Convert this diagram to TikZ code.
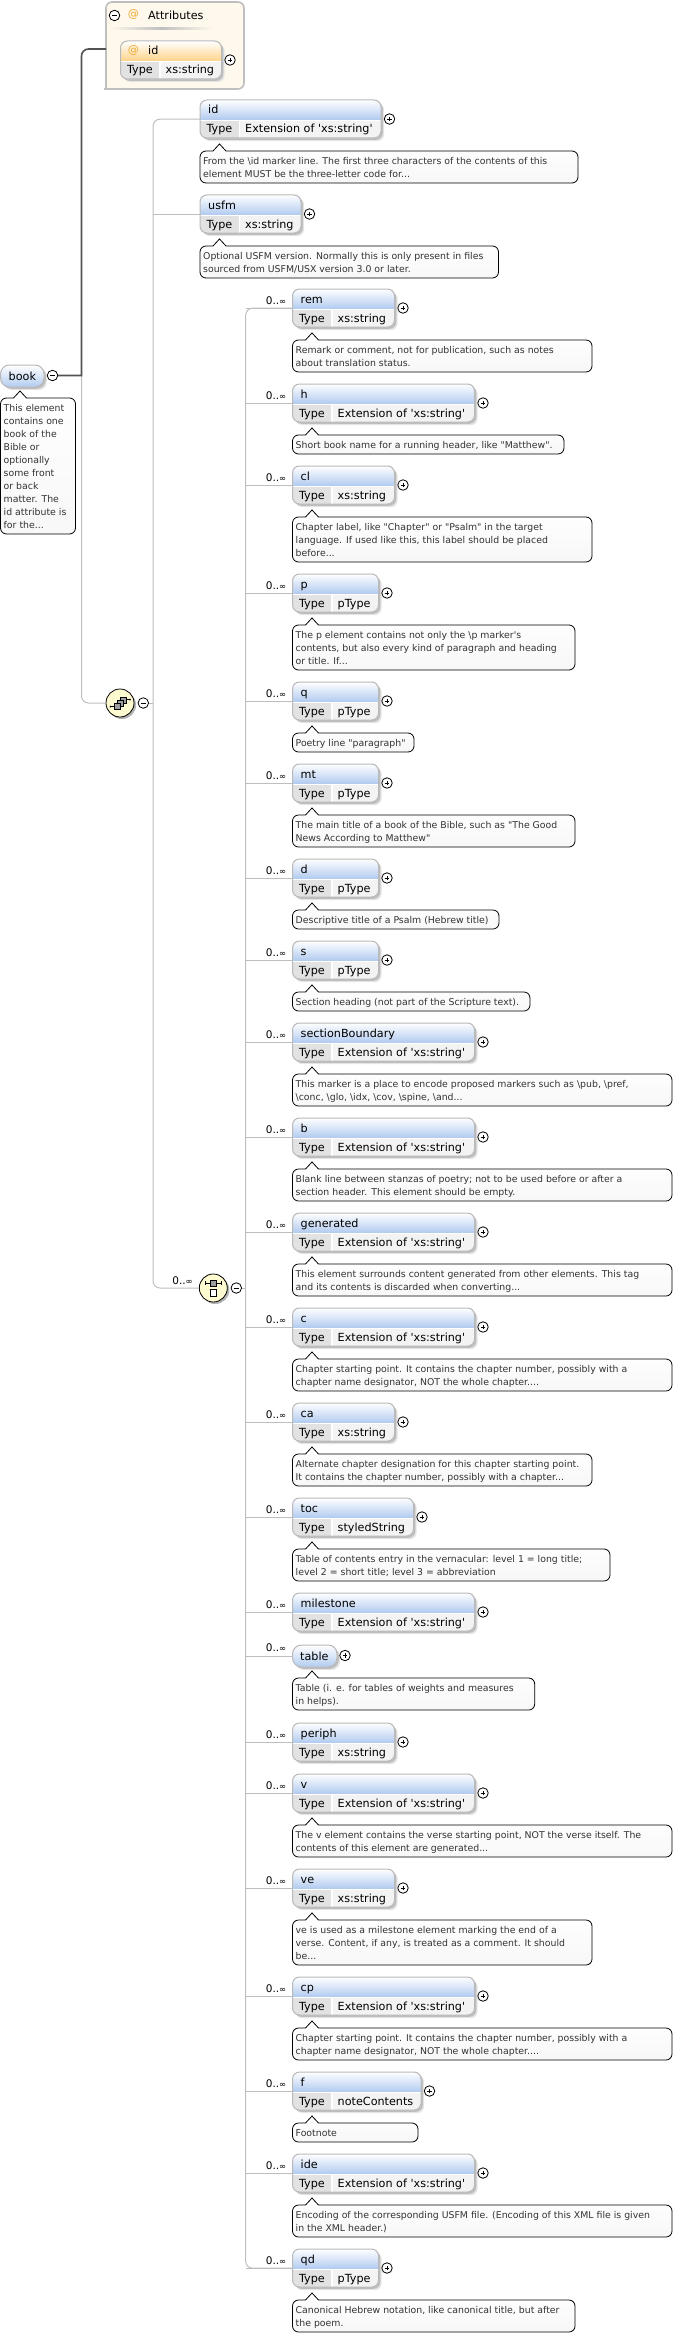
\documentclass[tikz,border=0pt]{standalone}
\usepackage{fontspec}
\newfontfamily\diagfont{DejaVu Sans}
\definecolor{elemblue}{RGB}{178,203,240}
\definecolor{attrorange}{RGB}{255,212,140}
\definecolor{attrtint}{RGB}{255,248,236}
\definecolor{compyellow}{RGB}{255,251,208}
\definecolor{linkgray}{RGB}{190,190,190}
\definecolor{frameline}{RGB}{185,185,185}
\definecolor{typecell}{RGB}{226,226,226}
\definecolor{valcell}{RGB}{243,243,243}
\definecolor{notetext}{RGB}{50,50,50}
\definecolor{attmark}{RGB}{240,168,48}

%% --- shadow and white body of a box ---
\newcommand{\boxshape}[6]{
    \fill[black!10, rounded corners=#6] (#2+3.2,#3+3.2) rectangle ++(#4,#5);
    \fill[black!26, rounded corners=#6] (#2+1.8,#3+1.8) rectangle ++(#4,#5);
    \node[anchor=north west, fill=white, rounded corners=#6, inner sep=0pt,
        minimum width=#4, minimum height=#5] (#1) at (#2,#3) {};
}

%% --- element box with a Type row ---
\newcommand{\elembox}[8]{
    \boxshape{#1}{#2}{#3}{#4}{38}{7pt}
    \begin{scope}
        \clip[rounded corners=7pt] (#2,#3) rectangle ++(#4,38);
        \fill[top color=white, bottom color=#6] (#2,#3) rectangle ++(#4,19.5);
        \fill[typecell] (#2,#3+21) rectangle (#2+38.5,#3+38);
        \fill[valcell] (#2+40,#3+21) rectangle (#2+#4,#3+38);
    \end{scope}
    \draw[boxline, rounded corners=7pt] (#2,#3) rectangle ++(#4,38);
    \node[celltext, anchor=base west] (#1name) at (#2+#7,#3+14) {#8};
    \node[celltext, anchor=base] (#1type) at (#2+19.5,#3+33) {Type};
    \node[celltext, anchor=base west] (#1val) at (#2+45,#3+33) {#5};
    \node[plusbtn] (#1plus) at (#2+#4+8.5,#3+19) {};
}

%% --- element box without a Type row ---
\newcommand{\pillbox}[5]{
    \boxshape{#1}{#2}{#3}{#4}{22}{9pt}
    \begin{scope}
        \clip[rounded corners=9pt] (#2,#3) rectangle ++(#4,22);
        \fill[top color=white, bottom color=elemblue] (#2,#3) rectangle ++(#4,22);
    \end{scope}
    \draw[boxline, rounded corners=9pt] (#2,#3) rectangle ++(#4,22);
    \node[celltext, anchor=base west] (#1name) at (#2+#5,#3+15) {#1};
}

%% --- note under an element, with its small peak ---
\newcommand{\docnote}[6]{
    \path[notebox] (#2+13,#3) -- (#2+19.5,#3-7) -- (#2+26,#3)
        [rounded corners=6pt] -- (#4,#3) -- (#4,#3+6+13*#5)
        -- (#2,#3+6+13*#5) -- (#2,#3) [sharp corners] -- cycle;
    \node[notetext] (#1doc) at (#2+3,#3+3.5) {\rule{0pt}{9.5pt}#6};
}

%% --- occurrence label ---
\newcommand{\occmark}{0..{\fontsize{8.5}{13}\selectfont ∞}}

%% --- one child of the choice: top, name, width, type, note end, note lines, note ---
\newcommand{\choicerow}[7]{
    \elembox{#2}{292.5}{#1}{#3}{#4}{elemblue}{8}{#2}
    \ifnum#6>0
        \docnote{#2}{292.5}{#1+51}{#5}{#6}{#7}
    \fi
    \node[occtext] (#2occ) at (286.5,#1+12) {\occmark};
    \draw[link] (#2.west -| choicebus) -- (#2.west);
}

\newcommand{\extstr}{Extension of 'xs:string'}
\newcommand{\bsl}{\textbackslash}

\begin{document}
\begin{tikzpicture}[x=1pt, y=-1pt,
    boxline/.style={draw=frameline, line width=1pt},
    celltext/.style={font=\diagfont\fontsize{11.2}{13}\selectfont, inner sep=0pt},
    notetext/.style={font=\diagfont\fontsize{9.35}{13}\selectfont, text=notetext,
        anchor=north west, inner sep=0pt, align=left},
    notebox/.style={draw=black, line width=.8pt, top color=white, bottom color=black!3},
    occtext/.style={font=\diagfont\fontsize{10.5}{13}\selectfont, anchor=east, inner sep=0pt},
    link/.style={draw=linkgray, line width=1pt},
    attlink/.style={draw=black!68, line width=1.6pt},
    btnbase/.style={circle, draw=black, line width=.8pt, fill=white,
        minimum size=10.5pt, inner sep=0pt},
    minusbtn/.style={btnbase, path picture={
        \draw[line width=.7pt] ([xshift=-2.6pt]path picture bounding box.center)
            -- ([xshift=2.6pt]path picture bounding box.center);}},
    plusbtn/.style={btnbase, path picture={
        \draw[line width=.7pt] ([xshift=-2.3pt]path picture bounding box.center)
            -- ([xshift=2.3pt]path picture bounding box.center);
        \draw[line width=.7pt] ([yshift=-2.3pt]path picture bounding box.center)
            -- ([yshift=2.3pt]path picture bounding box.center);}},
    compositor/.style={circle, draw=black, line width=.8pt, fill=compyellow,
        minimum size=28pt, inner sep=0pt},
    compshadow/.style={fill=black!30},
    compsquare/.style={draw=black, line width=.6pt, fill=black!38},
]
\useasboundingbox (0,0) rectangle (695,2336);

%% --- attributes panel ---
\draw[draw=black!25, line width=1.6pt, fill=attrtint] (106,89) [rounded corners=6pt]
    -- (106,2) -- (244,2) -- (244,89) -- (110,89) [sharp corners] -- cycle;
\node[minusbtn] (attminus) at (114.5,15.5) {};
\node[celltext, text=attmark] (attat) at (133.5,15) {@};
\node[celltext, anchor=west] (attrs) at (148,15) {Attributes};
\fill[left color=attrtint, right color=attrtint, middle color=black!25]
    (110,28) rectangle (212,30);
\coordinate (attjoin) at (106,49);
\elembox{attid}{120.5}{41}{101}{xs:string}{attrorange}{27.5}{id}
\node[celltext, text=attmark] (attidat) at (133.5,50.5) {@};

%% --- book root ---
\pillbox{book}{0.5}{365}{43.5}{8}
\node[minusbtn] (bookminus) at (52.5,375.5) {};
\coordinate (bookbus) at (81.5,375.5);
\docnote{book}{0.5}{398}{75.5}{10}{This element\\contains one\\book of the\\Bible or\\optionally\\some front\\or back\\matter. The\\id attribute is\\for the...}

%% --- sequence compositor ---
\fill[compshadow] (122,705) circle (14);
\node[compositor] (seq) at (120,703) {};
\draw[line width=.8pt] (110.5,706.5) -- (115,706.5);
\draw[line width=.8pt] (125,699.5) -- (130,699.5);
\fill (110.5,706.5) circle (1) (130,699.5) circle (1);
\foreach \cx/\cy in {123.5/700, 120.5/703, 117.3/706}{
    \draw[compsquare] (\cx-3,\cy-3) rectangle (\cx+3,\cy+3);
}
\node[minusbtn] (seqminus) at (143.3,703) {};
\draw[link, rounded corners=7pt] (bookbus) |- (seq);
\draw[attlink] (bookminus) -- (bookbus) [rounded corners=7pt] |- (attjoin);

%% --- first two elements of the sequence ---
\elembox{id}{200}{100}{181}{\extstr}{elemblue}{8}{id}
\docnote{id}{200}{151}{578}{2}{From the \bsl id marker line. The first three characters of the contents of this\\element MUST be the three-letter code for...}
\elembox{usfm}{200}{195}{101}{xs:string}{elemblue}{8}{usfm}
\docnote{usfm}{200}{246}{498.5}{2}{Optional USFM version. Normally this is only present in files\\sourced from USFM/USX version 3.0 or later.}

%% --- choice compositor ---
\fill[compshadow] (215.3,1290) circle (14);
\node[compositor] (choice) at (213.3,1288) {};
\draw[line width=.8pt] (205.5,1283) -- (221,1283);
\draw[line width=.8pt] (205.5,1281) -- (205.5,1285) (221,1281) -- (221,1285);
\draw[compsquare] (210.2,1280) rectangle (216.4,1286);
\draw[draw=black, line width=.8pt, fill=white] (210,1289.5) rectangle (216.6,1296);
\node[minusbtn] (choiceminus) at (236.3,1288) {};
\node[occtext] (choiceocc) at (193,1281) {\occmark};
\coordinate (seqbus) at (153,703);
\coordinate (choicebus) at (245.7,1288);
\draw[link, rounded corners=7pt] (id.west) -| (seqbus) |- (choice);
\draw[link] (usfm.west) -- (usfm.west -| seqbus);
\draw[link] (seqminus) -- (seqbus);
\draw[link] (choiceminus) -- (choicebus);

%% --- children of the choice ---
\choicerow{289}{rem}{102}{xs:string}{592}{2}{Remark or comment, not for publication, such as notes\\about translation status.}
\choicerow{384}{h}{182}{\extstr}{564}{1}{Short book name for a running header, like "Matthew".}
\choicerow{466}{cl}{102}{xs:string}{592}{3}{Chapter label, like "Chapter" or "Psalm" in the target\\language. If used like this, this label should be placed\\before...}
\choicerow{574}{p}{86}{pType}{575}{3}{The p element contains not only the \bsl p marker's\\contents, but also every kind of paragraph and heading\\or title. If...}
\choicerow{682}{q}{86}{pType}{414}{1}{Poetry line "paragraph"}
\choicerow{764}{mt}{86}{pType}{575}{2}{The main title of a book of the Bible, such as "The Good\\News According to Matthew"}
\choicerow{859}{d}{86}{pType}{499}{1}{Descriptive title of a Psalm (Hebrew title)}
\choicerow{941}{s}{86}{pType}{530}{1}{Section heading (not part of the Scripture text).}
\choicerow{1023}{sectionBoundary}{182}{\extstr}{672}{2}{This marker is a place to encode proposed markers such as \bsl pub, \bsl pref,\\\bsl conc, \bsl glo, \bsl idx, \bsl cov, \bsl spine, \bsl and...}
\choicerow{1118}{b}{182}{\extstr}{672}{2}{Blank line between stanzas of poetry; not to be used before or after a\\section header. This element should be empty.}
\choicerow{1213}{generated}{182}{\extstr}{672}{2}{This element surrounds content generated from other elements. This tag\\and its contents is discarded when converting...}
\choicerow{1308}{c}{182}{\extstr}{672}{2}{Chapter starting point. It contains the chapter number, possibly with a\\chapter name designator, NOT the whole chapter....}
\choicerow{1403}{ca}{102}{xs:string}{592}{2}{Alternate chapter designation for this chapter starting point.\\It contains the chapter number, possibly with a chapter...}
\choicerow{1498}{toc}{121}{styledString}{610}{2}{Table of contents entry in the vernacular: level 1 = long title;\\level 2 = short title; level 3 = abbreviation}
\choicerow{1593}{milestone}{182}{\extstr}{0}{0}{}
\choicerow{1723}{periph}{102}{xs:string}{0}{0}{}
\choicerow{1774}{v}{182}{\extstr}{672}{2}{The v element contains the verse starting point, NOT the verse itself. The\\contents of this element are generated...}
\choicerow{1869}{ve}{102}{xs:string}{592}{3}{ve is used as a milestone element marking the end of a\\verse. Content, if any, is treated as a comment. It should\\be...}
\choicerow{1977}{cp}{182}{\extstr}{672}{2}{Chapter starting point. It contains the chapter number, possibly with a\\chapter name designator, NOT the whole chapter....}
\choicerow{2072}{f}{128.5}{noteContents}{418}{1}{Footnote}
\choicerow{2154}{ide}{182}{\extstr}{672}{2}{Encoding of the corresponding USFM file. (Encoding of this XML file is given\\in the XML header.)}
\choicerow{2249}{qd}{86}{pType}{575}{2}{Canonical Hebrew notation, like canonical title, but after\\the poem.}

%% --- the one child without a type ---
\pillbox{table}{292.5}{1645}{44.5}{7.5}
\node[plusbtn] (tableplus) at (345,1655.5) {};
\docnote{table}{292.5}{1678}{534.7}{2}{Table (i. e. for tables of weights and measures\\in helps).}
\node[occtext] (tableocc) at (286.5,1648) {\occmark};
\draw[link] (table.west -| choicebus) -- (table.west);

%% --- spine of the choice ---
\draw[link, rounded corners=7pt] (rem.west) -| (choicebus) |- (qd.west);

\end{tikzpicture}
\end{document}
